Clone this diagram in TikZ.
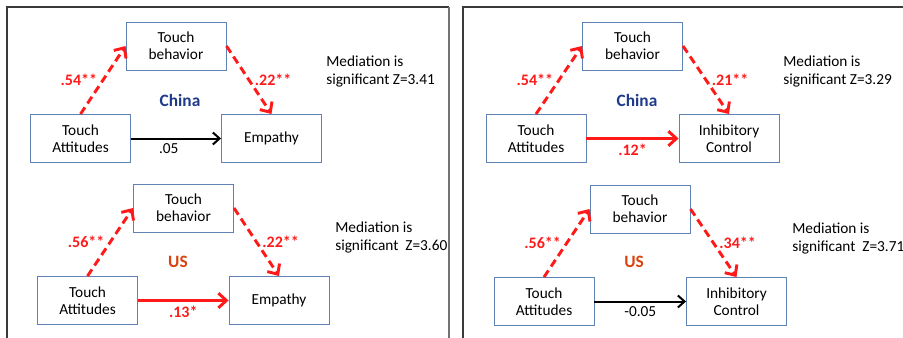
\documentclass[tikz,border=0pt]{standalone}
\usepackage{fontspec}
\setmainfont{Carlito}
\usepackage{tikz}
\usetikzlibrary{arrows.meta,positioning}
\definecolor{boxblue}{HTML}{5F82B5}
\definecolor{chinablue}{HTML}{1F3A8A}
\definecolor{usorange}{HTML}{D9420F}
\definecolor{sigred}{HTML}{FF1A1A}
\definecolor{frame}{HTML}{3A3A3A}

\begin{document}
\begin{tikzpicture}[x=0.75pt,y=-0.75pt,>=Latex,
 varbox/.style={draw=boxblue,line width=0.7pt,minimum width=75pt,minimum height=36pt,
   align=center,font=\fontsize{11.5}{13}\selectfont},
 medarr/.style={-{Straight Barb[length=6pt,width=11pt]},draw=sigred,line width=2.2pt,
   dash pattern=on 6pt off 3.5pt},
 sigarr/.style={-{Straight Barb[length=6pt,width=11pt]},draw=sigred,line width=2.2pt},
 nsarr/.style={-{Straight Barb[length=5pt,width=9pt]},draw=black,line width=1.5pt},
 coef/.style={font=\fontsize{12}{14}\selectfont\bfseries,text=sigred},
 nscoef/.style={font=\fontsize{11.5}{13}\selectfont},
 note/.style={align=left,anchor=west,font=\fontsize{11.5}{13.5}\selectfont,inner sep=0pt},
 country/.style={font=\fontsize{13}{15}\selectfont\bfseries}]
 \useasboundingbox (0,0) rectangle (903,337);
 % panel frames
 \draw[frame,line width=1pt] (7,340) -- (7,7) -- (449,7);
 \draw[black!55,line width=1.2pt] (449,7) -- (449,340);
 \draw[frame,line width=1pt] (463,340) -- (463,7) -- (906,7);
 % Empathy, China
 \node[varbox] (tb1) at (176,46) {Touch\\behavior};
 \node[varbox] (ta1) at (80.5,138.5) {Touch\\Attitudes};
 \node[varbox] (emp1) at (271.5,138.5) {Empathy};
 \node[country,text=chinablue] (cn1) at (180,100) {China};
 \node[note] (med1) at (326,71) {Mediation is\\significant Z=3.41};
 \draw[medarr] (ta1.north) -- node[coef,left] {.54**} (tb1.west);
 \draw[medarr] (tb1.east) -- node[coef,right] {.22**} (emp1.north);
 \draw[nsarr] (ta1.east) -- node[nscoef,below,pos=0.42] {.05} (emp1.west);
 % Empathy, US
 \node[varbox] (tb2) at (183.5,208) {Touch\\behavior};
 \node[varbox] (ta2) at (87.5,300.5) {Touch\\Attitudes};
 \node[varbox] (emp2) at (279,300.5) {Empathy};
 \node[country,text=usorange] (us2) at (178,262) {US};
 \node[note] (med2) at (335,237) {Mediation is\\significant\ \ Z=3.60};
 \draw[medarr] (ta2.north) -- node[coef,left] {.56**} (tb2.west);
 \draw[medarr] (tb2.east) -- node[coef,right] {.22**} (emp2.north);
 \draw[sigarr] (ta2.east) -- node[coef,below] {.13*} (emp2.west);
 % Inhibitory Control, China
 \node[varbox] (tb3) at (632.5,46) {Touch\\behavior};
 \node[varbox] (ta3) at (536,138.5) {Touch\\Attitudes};
 \node[varbox] (ic3) at (729,138.5) {Inhibitory\\Control};
 \node[country,text=chinablue] (cn3) at (637,100) {China};
 \node[note] (med3) at (783,71) {Mediation is\\significant Z=3.29};
 \draw[medarr] (ta3.north) -- node[coef,left] {.54**} (tb3.west);
 \draw[medarr] (tb3.east) -- node[coef,right] {.21**} (ic3.north);
 \draw[sigarr] (ta3.east) -- node[coef,below] {.12*} (ic3.west);
 % Inhibitory Control, US
 \node[varbox] (tb4) at (640,209) {Touch\\behavior};
 \node[varbox] (ta4) at (544,301.5) {Touch\\Attitudes};
 \node[varbox] (ic4) at (736.5,301.5) {Inhibitory\\Control};
 \node[country,text=usorange] (us4) at (634,262) {US};
 \node[note] (med4) at (792,238) {Mediation is\\significant\ \ Z=3.71};
 \draw[medarr] (ta4.north) -- node[coef,left] {.56**} (tb4.west);
 \draw[medarr] (tb4.east) -- node[coef,right] {.34**} (ic4.north);
 \draw[nsarr] (ta4.east) -- node[nscoef,below] {-0.05} (ic4.west);
\end{tikzpicture}
\end{document}
